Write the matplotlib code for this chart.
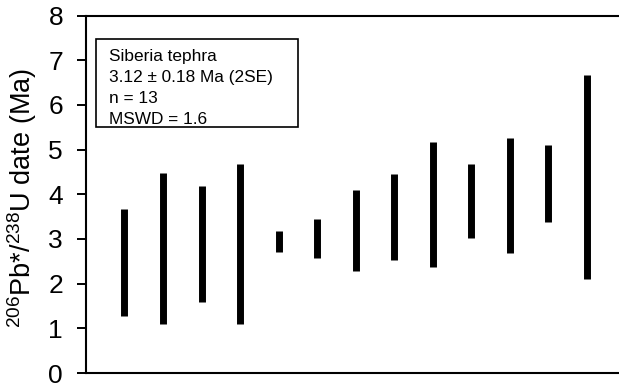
import numpy as np
import matplotlib
matplotlib.use('Agg')
import matplotlib.pyplot as plt
from matplotlib.patches import Rectangle

plt.rcParams['font.family'] = 'Liberation Sans'
plt.rcParams['mathtext.fontset'] = 'custom'
plt.rcParams['mathtext.rm'] = 'Liberation Sans'
plt.rcParams['mathtext.default'] = 'regular'

# 2SE ranges of the single-grain dates (Ma)
grain = np.arange(1, 14)
lower = [1.28, 1.10, 1.58, 1.10, 2.70, 2.57, 2.29, 2.52, 2.38, 3.02, 2.68, 3.38, 2.10]
upper = [3.68, 4.48, 4.18, 4.67, 3.17, 3.45, 4.09, 4.45, 5.16, 4.67, 5.26, 5.10, 6.67]

summary = ['Siberia tephra', '3.12 \u00b1 0.18 Ma (2SE)', 'n = 13', 'MSWD = 1.6']

fig = plt.figure(figsize=(6.19, 3.89), dpi=100)
ax = fig.add_axes([0.1389, 0.0411, 0.871, 0.919])

ax.vlines(grain, lower, upper, colors='black', linewidth=5.0)

ax.set_xlim(0, 14)
ax.set_ylim(0, 8)
ax.set_yticks(range(0, 9))
ax.set_xticks([])
ax.tick_params(axis='y', direction='out', length=6.5, width=1.4,
               labelsize=19, pad=10)
for side in ['left', 'top', 'bottom']:
    ax.spines[side].set_linewidth(1.5)
ax.spines['right'].set_visible(False)

ax.set_ylabel(r'$^{206}$Pb*/$^{238}$U date (Ma)', fontsize=19.5)
ax.yaxis.set_label_coords(-0.087, 0.49)

# summary box
ax.add_patch(Rectangle((0.0186, 0.689), 0.375, 0.245, transform=ax.transAxes,
                       facecolor='white', edgecolor='black', linewidth=1.2))
ax.text(0.0427, 0.905, '\n'.join(summary), transform=ax.transAxes,
        fontsize=12.4, va='top', ha='left', linespacing=1.5)

plt.savefig('out.png', dpi=100)
